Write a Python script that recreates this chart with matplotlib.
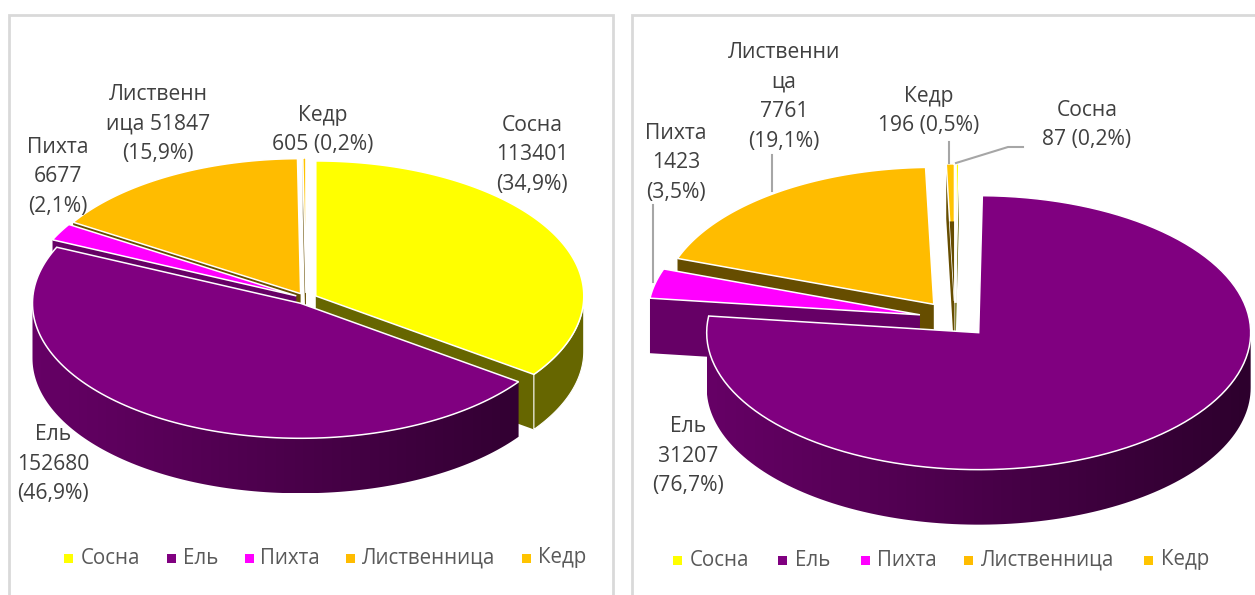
import matplotlib as mpl
mpl.use('agg')
import matplotlib.pyplot as plt
import numpy as np
from matplotlib.patches import Polygon, Rectangle

plt.rcParams['font.family'] = ['Open Sans', 'DejaVu Sans']

names = ['Сосна', 'Ель', 'Пихта', 'Лиственница', 'Кедр']
colors = ['#FFFF00', '#800080', '#FF00FF', '#FFBC00', '#FFC400']
wall_colors = ['#666600', '#660066', '#660066', '#664D00', '#664D00']

values_left = [113401, 152680, 6677, 51847, 605]
values_right = [87, 31207, 1423, 7761, 196]

labels_left = ['Сосна\n113401\n(34,9%)', 'Ель\n152680\n(46,9%)', 'Пихта\n6677\n(2,1%)',
               'Лиственн\nица 51847\n(15,9%)', 'Кедр\n605 (0,2%)']
labels_right = ['Сосна\n87 (0,2%)', 'Ель\n31207\n(76,7%)', 'Пихта\n1423\n(3,5%)',
                'Лиственни\nца\n7761\n(19,1%)', 'Кедр\n196 (0,5%)']

label_pos_left = [(532, 155), (53, 464), (58, 177), (158, 124), (323, 130)]
label_pos_right = [(1087, 125), (688, 456), (676, 163), (784, 97), (929, 111)]

legend_left = [(68, 81), (171, 183), (249, 260), (350, 362), (526, 538)]
legend_right = [(677, 690), (782, 795), (865, 877), (968, 981), (1148, 1161)]

fig = plt.figure(figsize=(12.55, 5.95), dpi=100)
ax = fig.add_axes([0, 0, 1, 1])
ax.set_xlim(0, 1255)
ax.set_ylim(595, 0)
ax.axis('off')


def arc(cx, cy, a, b, t1, t2, n=120):
    # angles go clockwise from the top, as in excel
    t = np.radians(np.linspace(t1, t2, n))
    return np.column_stack([cx + a * np.sin(t), cy - b * np.cos(t)])


def radial(cx, cy, a, b, t, frac=1.0):
    return np.array([cx + frac * a * np.sin(np.radians(t)), cy - frac * b * np.cos(np.radians(t))])


def draw_pie(values, cx, cy, a, b, depth, explode, order):
    values = np.array(values, dtype=float)
    ends = np.cumsum(values) / values.sum() * 360
    starts = np.r_[0, ends[:-1]]
    z = 2
    centers = {}
    for i in order:
        s, e = starts[i], ends[i]
        mid = np.radians((s + e) / 2)
        x0 = cx + explode * np.sin(mid)
        y0 = cy - explode * b / a * np.cos(mid)
        centers[i] = (x0, y0, s, e)
        down = np.array([0, depth])

        # cut faces that look to the viewer
        apex = np.array([x0, y0])
        for t, show in [(s, np.sin(np.radians(s)) < 0), (e, np.sin(np.radians(e)) > 0)]:
            if show:
                tip = radial(x0, y0, a, b, t)
                ax.add_patch(Polygon([apex, tip, tip + down, apex + down], fc=wall_colors[i], ec='none', zorder=z))
                z += 1

        # outer rim, only the front half
        t1, t2 = max(s, 90), min(e, 270)
        if t2 > t1:
            top = arc(x0, y0, a, b, t1, t2)
            rim = np.vstack([top, top[::-1] + down])
            if i == 1:
                grad = np.linspace(0, 1, 256).reshape(1, -1, 1)
                img = (1 - grad) * np.array([102, 0, 102]) + grad * np.array([45, 0, 45])
                im = ax.imshow(img.astype(np.uint8), extent=(x0 - a, x0 + a, y0 + b + depth, y0 - b),
                               aspect='auto', zorder=z)
                im.set_clip_path(Polygon(rim, transform=ax.transData))
                ax.set_xlim(0, 1255)
                ax.set_ylim(595, 0)
            else:
                ax.add_patch(Polygon(rim, fc=wall_colors[i], ec='white', lw=0.8, zorder=z))
            z += 1

        # top face
        face = np.vstack([apex, arc(x0, y0, a, b, s, e)])
        ax.add_patch(Polygon(face, fc=colors[i], ec='white', lw=1.1, zorder=z))
        z += 1
    return centers, z


def draw_labels(labels, positions):
    for text, (x, y) in zip(labels, positions):
        ax.text(x, y, text, ha='center', va='center', fontsize=15.2, color='#404040', linespacing=1.53, zorder=50)


def draw_legend(positions, y):
    for name, color, (mx, tx) in zip(names, colors, positions):
        ax.add_patch(Rectangle((mx - 4.5, y - 4.5), 9, 9, fc=color, ec='none', zorder=50))
        ax.text(tx, y, name, ha='left', va='center', fontsize=14.8, color='#595959', zorder=50)


# panel frames, bottom is cut off
grey = '#D9D9D9'
ax.plot([9, 9, 613, 613], [595, 15, 15, 595], color=grey, lw=2, solid_joinstyle='miter')
ax.plot([632, 632, 1255], [595, 15, 15], color=grey, lw=2, solid_joinstyle='miter')

draw_pie(values_left, 306, 298.5, 268, 135, 55, 11, [3, 4, 2, 0, 1])
centers, z = draw_pie(values_right, 955, 319, 272, 137, 55, 36, [4, 0, 3, 2, 1])

# thin right slices go dark and pale towards the centre
x0, y0, s, e = centers[4]
sliver = np.array([[x0, y0], radial(x0, y0, 272, 137, s, 0.58), radial(x0, y0, 272, 137, e, 0.58)])
ax.add_patch(Polygon(sliver, fc=wall_colors[4], ec='none', zorder=z))
x0, y0, s, e = centers[0]
sliver = np.array([[x0, y0], radial(x0, y0, 272, 137, s, 0.5), radial(x0, y0, 272, 137, e, 0.5)])
ax.add_patch(Polygon(sliver, fc='#FFFBB0', ec='none', zorder=z))
# white gap between the two slivers
tip = radial(x0, y0, 272, 137, s)
ax.plot([x0, tip[0]], [y0, tip[1]], color='white', lw=2, zorder=z + 1)

# leader lines on the right chart
leader = '#A6A6A6'
ax.plot([949, 949], [142, 163], color=leader, lw=1.5, zorder=40)
ax.plot([956, 1008, 1023], [163, 147, 147], color=leader, lw=1.5, zorder=40)
ax.plot([772, 772], [155, 191], color=leader, lw=1.5, zorder=40)
ax.plot([653, 653], [205, 282], color=leader, lw=1.5, zorder=40)

draw_labels(labels_left, label_pos_left)
draw_labels(labels_right, label_pos_right)
draw_legend(legend_left, 558)
draw_legend(legend_right, 560)

fig.savefig('out.png', dpi=100)
plt.close(fig)
